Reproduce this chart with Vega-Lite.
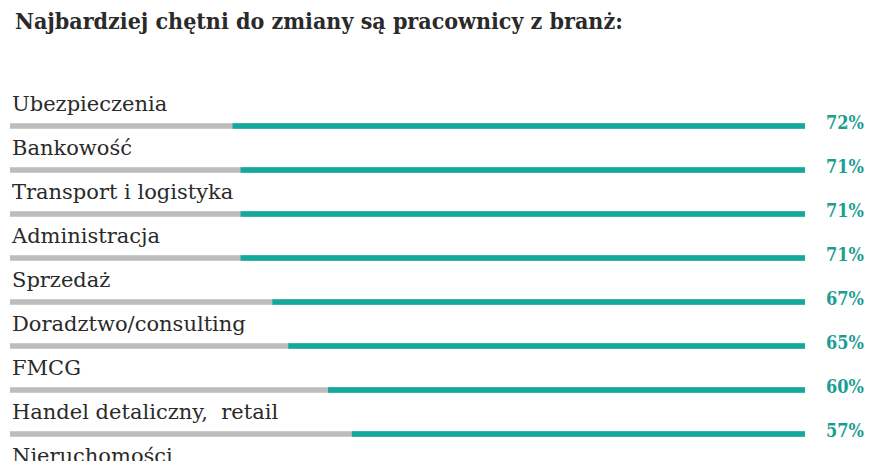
{
  "$schema": "https://vega.github.io/schema/vega-lite/v6.json",
  "autosize": {"type": "none"},
  "width": 795,
  "height": 396,
  "padding": {"left": 10, "top": 104, "right": 70, "bottom": 0},
  "background": "#ffffff",
  "title": {
    "text": "Najbardziej chętni do zmiany są pracownicy z branż:",
    "anchor": "start",
    "frame": "group",
    "font": "DejaVu Serif Condensed",
    "fontWeight": "bold",
    "fontSize": 23,
    "color": "#2a2a2a",
    "dx": 5,
    "offset": 60
  },
  "config": {"view": {"stroke": null}},
  "data": {
    "values": [
      {"branza": "Ubezpieczenia", "value": 0.72},
      {"branza": "Bankowość", "value": 0.71},
      {"branza": "Transport i logistyka", "value": 0.71},
      {"branza": "Administracja", "value": 0.71},
      {"branza": "Sprzedaż", "value": 0.67},
      {"branza": "Doradztwo/consulting", "value": 0.65},
      {"branza": "FMCG", "value": 0.60},
      {"branza": "Handel detaliczny,\u00a0 retail", "value": 0.57},
      {"branza": "Nieruchomości", "value": 0.55}
    ]
  },
  "encoding": {
    "y": {
      "field": "branza",
      "type": "nominal",
      "sort": null,
      "scale": {"type": "band", "paddingInner": 0, "paddingOuter": 0},
      "axis": null
    }
  },
  "layer": [
    {
      "mark": {"type": "rule", "strokeWidth": 5.5, "strokeCap": "butt", "color": "#bcbcbc"},
      "encoding": {
        "x": {"datum": 1, "type": "quantitative", "scale": {"domain": [0, 1], "reverse": true}, "axis": null},
        "x2": {"datum": 0}
      }
    },
    {
      "mark": {"type": "rule", "strokeWidth": 5.5, "strokeCap": "butt", "color": "#13a99c"},
      "encoding": {
        "x": {"field": "value", "type": "quantitative"},
        "x2": {"datum": 0}
      }
    },
    {
      "mark": {"type": "text", "align": "left", "baseline": "alphabetic", "dx": 2, "dy": -15, "font": "DejaVu Serif", "fontSize": 21, "color": "#2a2a2a"},
      "encoding": {
        "x": {"datum": 1, "type": "quantitative"},
        "text": {"field": "branza"}
      }
    },
    {
      "mark": {"type": "text", "align": "left", "baseline": "alphabetic", "dx": 21, "dy": 3, "font": "DejaVu Serif Condensed", "fontWeight": "bold", "fontSize": 18, "color": "#1a9e93"},
      "encoding": {
        "x": {"datum": 0, "type": "quantitative"},
        "text": {"field": "value", "format": ".0%"}
      }
    }
  ]
}
